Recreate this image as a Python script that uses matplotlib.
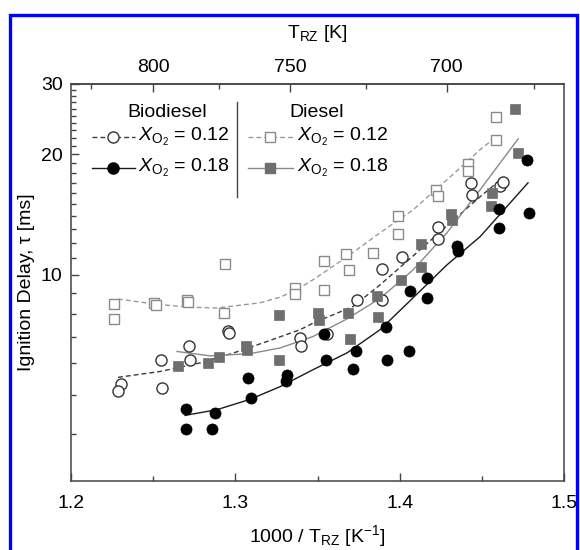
import numpy as np
import matplotlib
matplotlib.use('Agg')
import matplotlib.pyplot as plt
from matplotlib.patches import Rectangle

plt.rcParams['font.family'] = ['Liberation Sans', 'DejaVu Sans']
plt.rcParams['mathtext.fontset'] = 'custom'
plt.rcParams['mathtext.rm'] = 'Liberation Sans'
plt.rcParams['mathtext.it'] = 'Liberation Sans:italic'
plt.rcParams['font.size'] = 14

# Diesel, X_O2 = 0.12 (open squares)
d12_x = [1.226, 1.2264, 1.2505, 1.2516, 1.2704, 1.2712, 1.2937, 1.2931, 1.3363, 1.3363, 1.3542, 1.3542,
         1.3674, 1.3692, 1.3836, 1.3992, 1.3992, 1.4222, 1.4236, 1.4418, 1.4418, 1.4587, 1.4587]
d12_y = [8.45, 7.75, 8.50, 8.41, 8.66, 8.54, 10.65, 8.04, 9.25, 8.94, 10.84, 9.14,
         11.24, 10.25, 11.32, 14.04, 12.66, 16.31, 15.76, 18.95, 18.13, 24.79, 21.75]

# Biodiesel, X_O2 = 0.12 (open circles)
b12_x = [1.2302, 1.2288, 1.2548, 1.2556, 1.2720, 1.2726, 1.2957, 1.2963, 1.3394, 1.3400, 1.3556,
         1.3739, 1.3893, 1.3890, 1.4013, 1.4236, 1.4236, 1.4433, 1.4439, 1.4611, 1.4631]
b12_y = [5.33, 5.13, 6.13, 5.21, 6.64, 6.13, 7.24, 7.15, 6.95, 6.62, 7.12,
         8.63, 8.63, 10.33, 11.09, 13.13, 12.28, 17.01, 15.85, 16.72, 17.11]

# Diesel, X_O2 = 0.18 (filled grey squares)
d18_x = [1.2651, 1.2834, 1.2898, 1.3065, 1.3069, 1.3266, 1.3266, 1.3500, 1.3511, 1.3686, 1.3698,
         1.3861, 1.3869, 1.4007, 1.4130, 1.4130, 1.4313, 1.4317, 1.4556, 1.4564, 1.4704, 1.4719]
d18_y = [5.92, 6.03, 6.23, 6.64, 6.49, 7.92, 6.13, 8.04, 7.72, 8.02, 6.92,
         8.84, 7.83, 9.69, 11.93, 10.45, 14.18, 13.67, 14.88, 16.06, 25.96, 20.22]

# Biodiesel, X_O2 = 0.18 (filled black circles)
b18_x = [1.2697, 1.2697, 1.2876, 1.2858, 1.3079, 1.3096, 1.3317, 1.3310, 1.3537, 1.3552, 1.3718, 1.3736,
         1.3917, 1.3925, 1.4057, 1.4065, 1.4164, 1.4164, 1.4349, 1.4357, 1.4607, 1.4607, 1.4774, 1.4789]
b18_y = [4.61, 4.11, 4.52, 4.11, 5.53, 4.92, 5.62, 5.41, 7.11, 6.11, 5.82, 6.43,
         7.40, 6.13, 6.43, 9.12, 9.81, 8.76, 11.77, 11.44, 14.60, 13.09, 19.39, 14.26]

# fitted curves
fit_d12_x = [1.2286, 1.2499, 1.2706, 1.2889, 1.3150, 1.3272, 1.3363, 1.3473, 1.3680, 1.3881, 1.4082, 1.4288, 1.4489, 1.4587]
fit_d12_y = [8.70, 8.46, 8.30, 8.26, 8.51, 8.79, 9.12, 9.72, 11.09, 12.74, 14.54, 17.28, 20.54, 22.13]
fit_b12_x = [1.2286, 1.2542, 1.2785, 1.2986, 1.3193, 1.3394, 1.3473, 1.3716, 1.3881, 1.4082, 1.4288, 1.4489, 1.4629]
fit_b12_y = [5.54, 5.73, 6.02, 6.37, 6.81, 7.29, 7.57, 8.33, 9.44, 11.15, 13.26, 15.67, 17.48]
fit_d18_x = [1.2645, 1.2846, 1.3089, 1.3272, 1.3473, 1.3680, 1.3881, 1.4082, 1.4288, 1.4489, 1.4721]
fit_d18_y = [6.43, 6.27, 6.35, 6.56, 7.01, 7.76, 8.73, 10.29, 12.74, 16.31, 21.88]
fit_b18_x = [1.2694, 1.2889, 1.3089, 1.3272, 1.3473, 1.3680, 1.3881, 1.4082, 1.4288, 1.4489, 1.4781]
fit_b18_y = [4.45, 4.60, 4.88, 5.25, 5.79, 6.38, 7.29, 8.76, 10.59, 12.45, 16.98]

top_ticks = [800, 750, 700]
top_minor = [825, 775, 725, 675]

light = '#9a9a9a'
dark = '#3a3a3a'
sq_grey = '#6e6e6e'

fig = plt.figure(figsize=(5.8, 5.5), dpi=100)
ax = fig.add_axes([71 / 580, 1 - 481 / 550, 493 / 580, 397 / 550])

dash = (3.5, 2.2)
ax.plot(fit_d12_x, fit_d12_y, color=light, lw=1.0, dashes=dash, zorder=2)
ax.plot(fit_b12_x, fit_b12_y, color=dark, lw=1.0, dashes=dash, zorder=2)
ax.plot(fit_d18_x, fit_d18_y, color='#8a8a8a', lw=1.0, zorder=2)
ax.plot(fit_b18_x, fit_b18_y, color='#1a1a1a', lw=1.0, zorder=2)

ax.plot(d12_x, d12_y, 's', ms=7, mfc='white', mec='#8a8a8a', mew=1.0, ls='none', zorder=3)
ax.plot(b12_x, b12_y, 'o', ms=8, mfc='white', mec='#333333', mew=1.0, ls='none', zorder=3)
ax.plot(d18_x, d18_y, 's', ms=6.5, mfc=sq_grey, mec=sq_grey, mew=0.5, ls='none', zorder=3)
ax.plot(b18_x, b18_y, 'o', ms=8, mfc='black', mec='black', mew=0.5, ls='none', zorder=3)

ax.set_yscale('log')
ax.set_xlim(1.2, 1.5)
ax.set_ylim(3.05, 30)
ax.set_xticks([1.2, 1.3, 1.4, 1.5])
ax.set_xticklabels(['1.2', '1.3', '1.4', '1.5'])
ax.set_xticks([1.25, 1.35, 1.45], minor=True)
ax.set_yticks([10, 20, 30])
ax.set_yticklabels(['10', '20', '30'])
ax.set_yticks([4, 5, 6, 7, 8, 9] + list(range(11, 20)) + list(range(21, 30)), minor=True)
ax.yaxis.set_minor_formatter(plt.NullFormatter())
ax.tick_params(which='both', direction='in', top=False, right=False, color='#444444')
ax.tick_params(which='major', length=6, width=1.0, pad=6)
ax.tick_params(which='minor', length=3.5, width=1.0)
ax.tick_params(axis='x', which='major', pad=10)
for s in ax.spines.values():
    s.set_linewidth(1.1)
    s.set_color('#444444')

sec = ax.secondary_xaxis('top', functions=(lambda v: 1000 / np.asarray(v, dtype=float),
                                           lambda v: 1000 / np.asarray(v, dtype=float)))
sec.set_xticks(top_ticks)
sec.set_xticklabels([str(t) for t in top_ticks])
sec.set_xticks(top_minor, minor=True)
sec.tick_params(which='both', direction='in', color='#444444')
sec.tick_params(which='major', length=6, width=1.0, pad=6)
sec.tick_params(which='minor', length=3.5, width=1.0)
sec.spines['top'].set_linewidth(1.1)
sec.spines['top'].set_color('#444444')
sec.set_xlabel(r'T$_{\mathrm{RZ}}$ [K]', labelpad=15)

ax.set_xlabel(r'1000 / T$_{\mathrm{RZ}}$ [K$^{\mathrm{-1}}$]', labelpad=8, fontsize=14)
ax.set_ylabel('Ignition Delay, τ [ms]', labelpad=4, fontsize=14)

# legend drawn by hand in axes coordinates
tr = ax.transAxes
ax.text(0.195, 0.929, 'Biodiesel', transform=tr, ha='center', va='center', fontsize=14)
ax.text(0.499, 0.929, 'Diesel', transform=tr, ha='center', va='center', fontsize=14)
ax.plot([0.3367, 0.3367], [0.7154, 0.9547], transform=tr, color='#444444', lw=1.0, clip_on=False)

rows = [0.8665, 0.788]
ax.plot([0.0426, 0.1298], [rows[0]] * 2, transform=tr, color=dark, lw=1.0, dashes=dash)
ax.plot([0.0852], [rows[0]], 'o', transform=tr, ms=8, mfc='white', mec='#333333', mew=1.0)
ax.plot([0.0426, 0.1298], [rows[1]] * 2, transform=tr, color='#1a1a1a', lw=1.0)
ax.plot([0.0852], [rows[1]], 'o', transform=tr, ms=8, mfc='black', mec='black')
ax.plot([0.359, 0.450], [rows[0]] * 2, transform=tr, color=light, lw=1.0, dashes=dash)
ax.plot([0.4037], [rows[0]], 's', transform=tr, ms=7, mfc='white', mec='#8a8a8a', mew=1.0)
ax.plot([0.359, 0.450], [rows[1]] * 2, transform=tr, color='#8a8a8a', lw=1.0)
ax.plot([0.4037], [rows[1]], 's', transform=tr, ms=6.5, mfc=sq_grey, mec=sq_grey)

lab12 = r'$X_{\mathrm{O}_2}$ = 0.12'
lab18 = r'$X_{\mathrm{O}_2}$ = 0.18'
ax.text(0.136, rows[0], lab12, transform=tr, ha='left', va='center', fontsize=14)
ax.text(0.136, rows[1], lab18, transform=tr, ha='left', va='center', fontsize=14)
ax.text(0.458, rows[0], lab12, transform=tr, ha='left', va='center', fontsize=14)
ax.text(0.458, rows[1], lab18, transform=tr, ha='left', va='center', fontsize=14)

# blue frame around the figure
fig.add_artist(Rectangle((9.5 / 580, -0.05), 567 / 580, 1.05 - 14.5 / 550, transform=fig.transFigure,
                         fill=False, edgecolor='#0000ff', lw=2.4))

fig.savefig('out.png', dpi=100)
